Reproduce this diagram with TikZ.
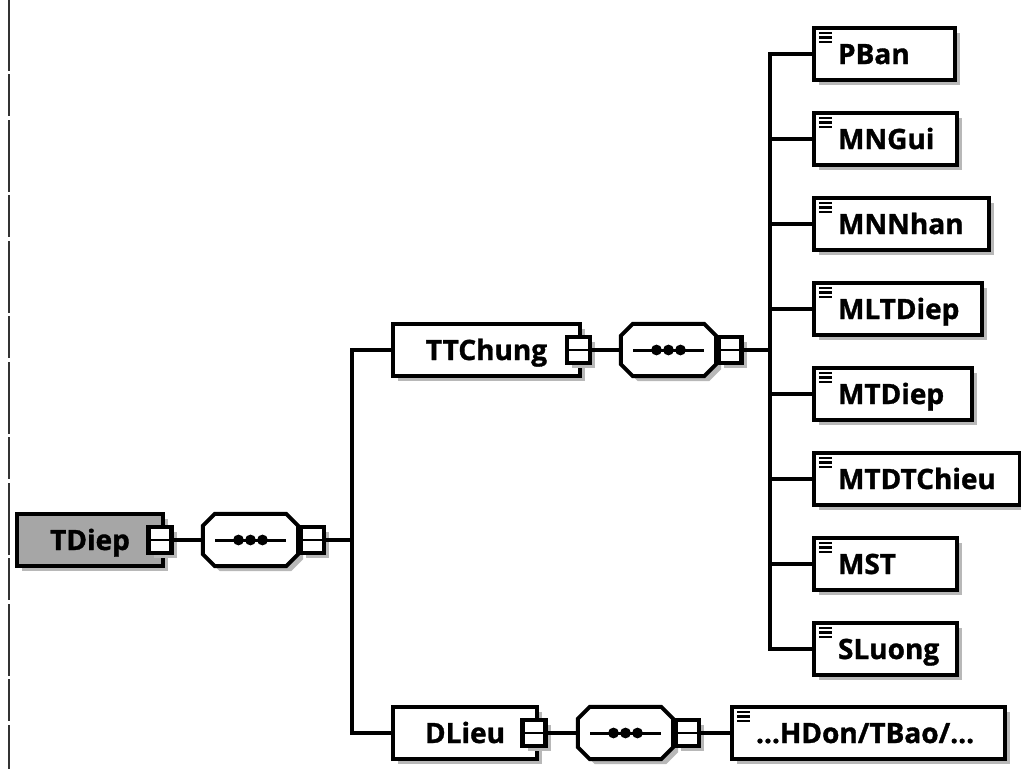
\documentclass[tikz,border=0pt]{standalone}
\usepackage{fontspec}
\setmainfont{Open Sans}[BoldFeatures={FakeBold=1.2}]
\usetikzlibrary{shadows}

% ottagono della sequenza, disegnato sopra il nodo (invisibile) #1
\newcommand\ottagono[1]{%
  \draw[line width=4pt,fill=white,ombra]
    ([shift={(12,0)}]#1.north west) -- ([shift={(-12,0)}]#1.north east)
    -- ([shift={(0,12)}]#1.north east) -- ([shift={(0,-12)}]#1.south east)
    -- ([shift={(-12,0)}]#1.south east) -- ([shift={(12,0)}]#1.south west)
    -- ([shift={(0,-12)}]#1.south west) -- ([shift={(0,12)}]#1.north west) -- cycle;
  \draw[line width=3pt] ([shift={(-34,0)}]#1.center) -- ([shift={(34,0)}]#1.center);
  \foreach \d in {-12,0,12}
    \fill ([shift={(\d,0)}]#1.center) circle (5.4);}

\begin{document}
\begin{tikzpicture}[x=1pt,y=-1pt,line join=miter,line cap=rect,
    font=\fontsize{28}{30}\selectfont\bfseries,
    ombra/.style={drop shadow={shadow xshift=5pt,shadow yshift=-5pt,fill=black!28,opacity=1}},
    elemento/.style={draw,line width=4pt,fill=white,ombra,minimum height=52pt,
      inner sep=0pt,text height=20pt,text depth=0pt},
    foglia/.style={elemento,anchor=west,align=left},
    sequenza/.style={minimum width=95pt,minimum height=52pt,inner sep=0pt},
    meno/.style={draw,line width=4.6pt,fill=white,ombra,minimum width=23pt,minimum height=26pt,inner sep=0pt,
      path picture={\draw[line width=2.6pt] ([xshift=-8pt]path picture bounding box.center)
          -- ([xshift=8pt]path picture bounding box.center);}},
    conn/.style={line width=3.4pt}]

  \useasboundingbox (0,0) rectangle (1021,769);

  % bordo sinistro della scansione
  \draw[line width=1.4pt,black!80,dash pattern=on 70pt off 5pt on 40pt off 6pt] (9,0) -- (9,769);

  % ---- radice TDiep ---------------------------------------------------------
  \node[elemento,fill=black!35,minimum width=146pt] (tdiep) at (90,540) {TDiep};
  \node[meno] (tdiepm) at (160,540) {};
  \node[sequenza] (seq1) at (250.5,540) {};
  \ottagono{seq1}
  \node[meno] (seq1m) at (312.5,540) {};
  \coordinate (j1) at (352,540);

  % ---- ramo TTChung -----------------------------------------------------------
  \node[elemento,minimum width=187pt] (ttchung) at (486.5,350) {TTChung};
  \node[meno] (ttchungm) at (578.5,350) {};
  \node[sequenza] (seq2) at (668.5,350) {};
  \ottagono{seq2}
  \node[meno] (seq2m) at (730,350) {};
  \coordinate (j2) at (770,350);

  \foreach \nome/\testo/\largo [count=\i from 0] in {pban/PBan/141,mngui/MNGui/143,
      mnnhan/MNNhan/175,mltdiep/MLTDiep/168,mtdiep/MTDiep/158,mtdtchieu/MTDTChieu/206,
      mst/MST/143,sluong/SLuong/143}
    \node[foglia,text width=\largo pt] (\nome) at (812,{54+85*\i}) {\hspace*{24pt}\testo};

  % ---- ramo DLieu -------------------------------------------------------------
  \node[elemento,minimum width=144pt] (dlieu) at (465,733) {DLieu};
  \node[meno] (dlieum) at (534,733) {};
  \node[sequenza] (seq3) at (625.5,733) {};
  \ottagono{seq3}
  \node[meno] (seq3m) at (687.5,733) {};
  \node[foglia,text width=273pt] (hdon) at (730,733) {\hspace*{24pt}...HDon/TBao/...};

  % icone "testo" in alto a sinistra
  \foreach \nome in {pban,mngui,mnnhan,mltdiep,mtdiep,mtdtchieu,mst,sluong,hdon}
    \foreach \k in {0,1,2}
      \draw[line width=2.6pt,line cap=butt] ([shift={(7,7+4.5*\k)}]\nome.north west) -- ++(13,0);

  % ---- connettori ---------------------------------------------------------------
  \draw[conn] (tdiepm) -- (seq1);
  \draw[conn] (seq1m) -- (j1) |- (ttchung);
  \draw[conn] (j1) |- (dlieu);
  \draw[conn] (ttchungm) -- (seq2);
  \draw[conn] (seq2m) -- (j2);
  \foreach \nome in {pban,mngui,mnnhan,mltdiep,mtdiep,mtdtchieu,mst,sluong}
    \draw[conn] (j2) |- (\nome);
  \draw[conn] (dlieum) -- (seq3);
  \draw[conn] (seq3m) -- (hdon);

\end{tikzpicture}
\end{document}
